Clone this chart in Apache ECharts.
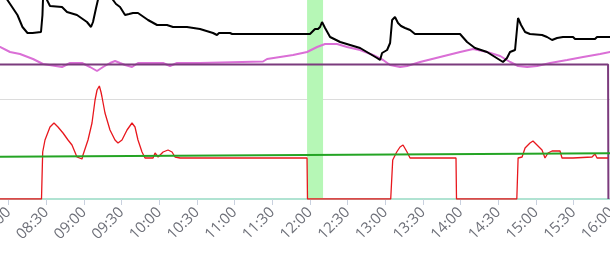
<!DOCTYPE html>
<html><head><meta charset="utf-8">
<script src="https://cdn.jsdelivr.net/npm/echarts@6/dist/echarts.min.js"></script>
<style>html,body{margin:0;padding:0;background:#fff;overflow:hidden}#c{width:610px;height:254px}</style>
</head><body><div id="c"></div>
<script>
// ---- data ----
const xTickLabels = ["07:30","08:00","08:30","09:00","09:30","10:00","10:30","11:00","11:30","12:00","12:30","13:00","13:30","14:00","14:30","15:00","15:30","16:00","16:30"];

const blackTimes = ["07:49:00","07:59:00","08:07:00","08:11:00","08:15:00","08:19:00","08:25:45","08:26:55","08:27:45","08:28:56","08:30:32","08:32:55","08:42:29","08:46:28","08:54:24","09:02:22","09:05:35","09:07:10","09:09:36","09:12:00","09:17:30","09:23:06","09:25:30","09:28:42","09:32:42","09:35:54","09:39:00","09:43:00","09:51:00","09:58:12","10:03:00","10:06:06","10:10:54","10:22:00","10:32:24","10:42:45","10:45:54","10:47:32","10:56:18","10:58:00","12:00:00","12:01:36","12:04:00","12:06:24","12:08:00","12:09:36","12:12:00","12:16:00","12:24:00","12:39:54","12:53:24","12:55:48","12:57:24","13:01:24","13:03:48","13:05:24","13:07:42","13:10:06","13:12:30","13:15:42","13:19:42","13:23:36","13:59:30","14:05:06","14:11:24","14:21:00","14:33:42","14:36:54","14:39:18","14:43:18","14:45:42","14:48:06","14:51:18","14:55:12","15:04:48","15:08:48","15:12:48","15:16:48","15:21:30","15:29:30","15:31:06","15:47:00","15:48:36","15:59:00"];
const blackValues = [219,199,184,172,166,166,167,184,214,209,199,193,192,187,184,177,172,177,191,204,219,199,195,192,184,185,186,186,179,174,174,174,172,172,170,166,164,166,166,165,165,167,170,170,172,177,171,162,157,151,141,139,146,149,156,179,182,176,173,171,169,165,165,157,151,147,137,141,147,149,181,174,167,165,164,162,159,161,162,162,160,160,162,162];

const pinkTimes = ["07:49:00","07:53:06","08:01:04","08:09:02","08:19:23","08:27:21","08:28:56","08:42:29","08:48:51","08:58:25","09:04:48","09:10:22","09:15:10","09:20:45","09:24:44","09:28:42","09:32:42","09:38:16","09:43:00","10:02:57","10:08:30","10:14:05","10:32:24","11:22:36","11:25:48","11:36:10","11:46:31","11:57:40","12:05:38","12:12:00","12:21:33","12:29:31","12:39:54","12:50:15","12:58:13","13:03:48","13:11:46","13:17:21","13:27:42","13:43:38","13:59:34","14:09:56","14:21:05","14:31:26","14:39:24","14:45:46","14:52:56","15:00:54","15:11:15","15:24:47","15:37:31","15:51:04","15:59:00","16:07:00"];
const pinkValues = [154,152,147,145,140,135,133,132,136,136,132,128,132,136,138,136,134,132,136,136,133,136,136,137.5,140,142,144,147,152,155,155,152,149,144,139,134,132,133,137,142,147,150,147,143,137,133,132,133,136,139,142,145,147,148];

const purpleTimes = ["07:30:00","15:57:24","15:57:40"];
const purpleValues = [134.6,134.6,0];

const redTimes = ["07:30:00","08:26:09","08:27:06","08:28:56","08:32:55","08:36:06","08:39:17","08:43:17","08:47:16","08:50:26","08:54:24","08:55:12","08:58:24","08:59:12","09:03:11","09:06:22","09:08:48","09:10:24","09:12:13","09:13:32","09:14:20","09:16:43","09:20:42","09:24:41","09:27:05","09:30:16","09:34:16","09:38:14","09:40:37","09:43:00","09:46:12","09:48:36","09:55:00","09:56:36","09:59:00","10:03:00","10:06:56","10:10:07","10:12:30","10:16:30","11:57:38","11:58:00","13:04:17","13:05:53","13:09:04","13:11:42","13:14:06","13:17:17","13:19:41","13:56:17","13:56:41","14:44:43","14:45:45","14:48:54","14:51:17","14:55:13","14:57:36","15:00:48","15:04:47","15:07:10","15:09:34","15:12:46","15:19:08","15:20:43","15:29:29","15:31:04","15:44:38","15:47:00","15:48:36","15:57:24"];
const redValues = [0,0,47,59,72,76,72,66,59,54,42,40,40,44,59,76,99,109,113,107,102,86,69,59,56,59,69,76,72,59,47,41,41,46,42,47,49,47,42,41,41,0,0,39,47,52,54,47,41,41,0,0,41,42,51,56,58,54,49,41,46,48,48,41,41,42,42,45,41,41];

const greenTimes = ["07:30:00","16:00:00"];
const greenValues = [42.0,45.7];

const bandStart = "11:57:40";
const bandEnd = "12:10:24";

// ---- helpers ----
function toMin(s){const p=s.split(':').map(Number);return p[0]*60+p[1]+(p[2]||0)/60;}
function pairs(t,v){return t.map((s,i)=>[toMin(s),v[i]]);}
function fmt(m){const h=Math.floor(m/60),mm=Math.round(m-h*60);return (h<10?'0':'')+h+':'+(mm<10?'0':'')+mm;}

const chart = echarts.init(document.getElementById('c'), null, {renderer:'canvas'});
const lineBase = {type:'line', showSymbol:false, symbol:'none', smooth:false, animation:false};
chart.setOption({
  animation:false,
  grid:{left:-29, right:-39, top:-1, bottom:55, containLabel:false, outerBoundsMode:'none'},
  xAxis:{
    type:'value', min:toMin(xTickLabels[0]), max:toMin(xTickLabels[xTickLabels.length-1]), interval:30,
    axisLine:{show:true, lineStyle:{color:'#b0e3d2', width:2}},
    axisTick:{show:true, length:6, lineStyle:{color:'#c9d1df', width:1}},
    axisLabel:{rotate:45, margin:11, fontSize:15, color:'#6e7079', fontFamily:'Open Sans', formatter:v=>fmt(v)},
    splitLine:{show:false}
  },
  yAxis:{
    type:'value', min:0, max:200, interval:100,
    axisLine:{show:false}, axisTick:{show:false}, axisLabel:{show:false},
    splitLine:{show:true, lineStyle:{color:'#dcdcdc', width:1}}
  },
  series:[
    Object.assign({}, lineBase, {name:'band', data:[], z:1,
      markArea:{silent:true, itemStyle:{color:'#b6f7b6'}, data:[[{xAxis:toMin(bandStart)},{xAxis:toMin(bandEnd)}]]}}),
    Object.assign({}, lineBase, {name:'black', z:5, data:pairs(blackTimes,blackValues), lineStyle:{color:'#000', width:2}}),
    Object.assign({}, lineBase, {name:'pink', z:3, data:pairs(pinkTimes,pinkValues), lineStyle:{color:'#da6fd6', width:2}}),
    Object.assign({}, lineBase, {name:'purple', z:4, data:pairs(purpleTimes,purpleValues), lineStyle:{color:'#7b3b7d', width:2}}),
    Object.assign({}, lineBase, {name:'red', z:4, data:pairs(redTimes,redValues), lineStyle:{color:'#e8171d', width:1.3}}),
    Object.assign({}, lineBase, {name:'green', z:6, data:pairs(greenTimes,greenValues), lineStyle:{color:'#24a424', width:2}})
  ]
});
</script></body></html>
